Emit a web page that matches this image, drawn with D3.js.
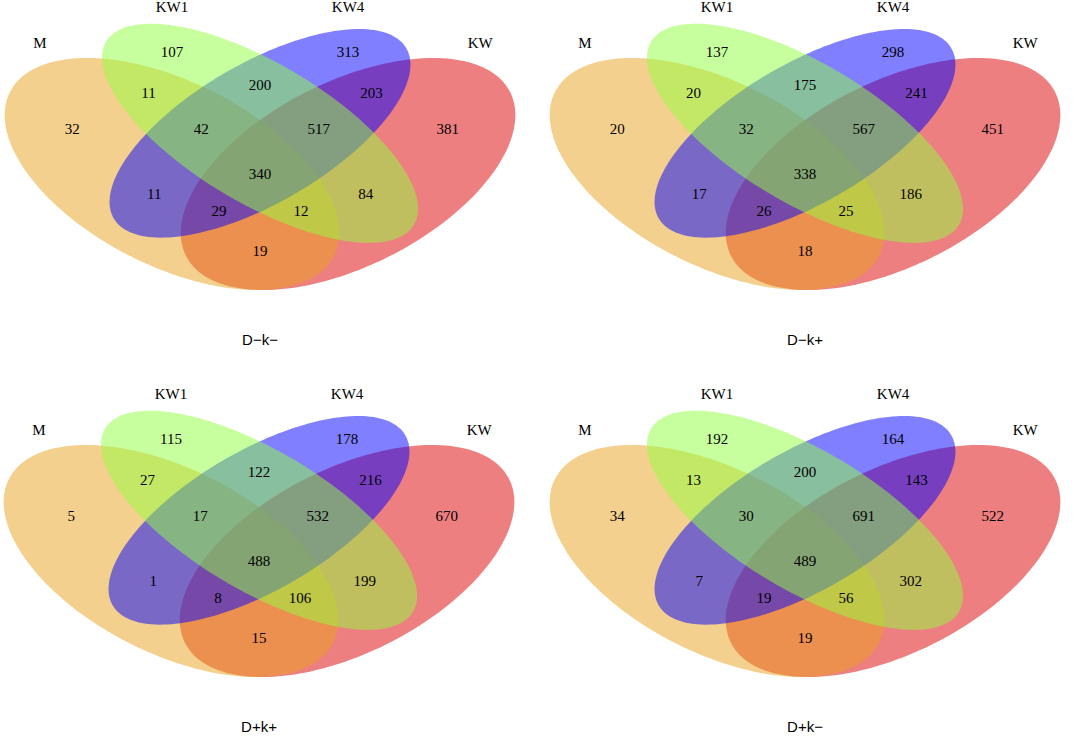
<!DOCTYPE html>
<html>
<head>
<meta charset="utf-8">
<script src="https://cdn.jsdelivr.net/npm/d3@7"></script>
<style>
  body { margin: 0; background: #fff; }
  svg { display: block; }
</style>
</head>
<body>
<svg id="chart" width="1084" height="736"></svg>
<script>
// set names, in the order their ellipses are listed below
const sets = ["M", "KW1", "KW4", "KW"];

// region order: M, KW1, KW4, KW, M&KW1, M&KW4, M&KW, KW1&KW4, KW1&KW, KW4&KW,
// M&KW1&KW4, M&KW1&KW, M&KW4&KW, KW1&KW4&KW, all four
const dkmCounts = [32, 107, 313, 381, 11, 11, 19, 200, 84, 203, 42, 12, 29, 517, 340];
const dkpCounts = [20, 137, 298, 451, 20, 17, 18, 175, 186, 241, 32, 25, 26, 567, 338];
const dpkpCounts = [5, 115, 178, 670, 27, 1, 15, 122, 199, 216, 17, 106, 8, 532, 488];
const dpkmCounts = [34, 192, 164, 522, 13, 7, 19, 200, 302, 143, 30, 56, 19, 691, 489];

const panelTitles = ["D\u2212k\u2212", "D\u2212k+", "D+k+", "D+k\u2212"];
const panelCounts = [dkmCounts, dkpCounts, dpkpCounts, dpkmCounts];

// layout in unit square (VennDiagram style quad layout)
const ellipses = [
  { cx: 0.35, cy: 0.47, a: 0.35, b: 0.20, rot: -45, color: "rgb(233,161,31)" },  // M
  { cx: 0.50, cy: 0.57, a: 0.35, b: 0.15, rot: -45, color: "rgb(145,255,61)" },  // KW1
  { cx: 0.50, cy: 0.57, a: 0.33, b: 0.15, rot: 45, color: "rgb(0,0,255)" },      // KW4
  { cx: 0.65, cy: 0.47, a: 0.35, b: 0.20, rot: 45, color: "rgb(221,0,2)" }       // KW
];
const drawOrder = [3, 0, 2, 1];

const regionPos = [
  [0.18, 0.58], [0.35, 0.77], [0.65, 0.77], [0.82, 0.58],
  [0.31, 0.67], [0.32, 0.42], [0.50, 0.28], [0.50, 0.69], [0.68, 0.42], [0.69, 0.67],
  [0.40, 0.58], [0.57, 0.38], [0.43, 0.38], [0.60, 0.58], [0.50, 0.47]
];
const setLabelPos = [[0.125, 0.792], [0.35, 0.88], [0.65, 0.88], [0.875, 0.792]];

// pixel frame of each panel's unit square
const panelFrames = [
  { x0: -33.5, x1: 553.5, y0: 365.3, y1: -41.7 },
  { x0: 511.5, x1: 1098.5, y0: 365.3, y1: -41.7 },
  { x0: -34.5, x1: 552.5, y0: 752.3, y1: 345.3 },
  { x0: 511.5, x1: 1098.5, y0: 752.3, y1: 345.3 }
];

const svg = d3.select("#chart");

function ellipsePoints(e) {
  const th = e.rot * Math.PI / 180;
  return d3.range(0, 360, 2).map(function (deg) {
    const t = deg * Math.PI / 180;
    const u = e.a * Math.cos(t), v = e.b * Math.sin(t);
    return [e.cx + u * Math.cos(th) - v * Math.sin(th),
            e.cy + u * Math.sin(th) + v * Math.cos(th)];
  });
}

panelCounts.forEach(function (counts, i) {
  const f = panelFrames[i];
  const x = d3.scaleLinear().domain([0, 1]).range([f.x0, f.x1]);
  const y = d3.scaleLinear().domain([0, 1]).range([f.y0, f.y1]);
  const line = d3.line().x(d => x(d[0])).y(d => y(d[1])).curve(d3.curveLinearClosed);

  const g = svg.append("g");

  g.selectAll("path")
    .data(drawOrder.map(k => ellipses[k]))
    .enter()
    .append("path")
    .attr("d", d => line(ellipsePoints(d)))
    .attr("fill", d => d.color)
    .attr("fill-opacity", 0.5)
    .attr("stroke", "none");

  g.selectAll(".count")
    .data(counts)
    .enter()
    .append("text")
    .attr("class", "count")
    .attr("x", (d, k) => x(regionPos[k][0]))
    .attr("y", (d, k) => y(regionPos[k][1]))
    .attr("dy", "0.34em")
    .attr("text-anchor", "middle")
    .attr("font-family", "Liberation Serif, Times New Roman, serif")
    .attr("font-size", 15)
    .attr("fill", "#000")
    .text(d => d);

  g.selectAll(".setlabel")
    .data(sets)
    .enter()
    .append("text")
    .attr("class", "setlabel")
    .attr("x", (d, k) => x(setLabelPos[k][0]))
    .attr("y", (d, k) => y(setLabelPos[k][1]))
    .attr("dy", "0.34em")
    .attr("text-anchor", "middle")
    .attr("font-family", "Liberation Serif, Times New Roman, serif")
    .attr("font-size", 15)
    .attr("fill", "#000")
    .text(d => d);

  // panel title, kept a little above the bottom edge
  g.append("text")
    .attr("x", x(0.5))
    .attr("y", y(0.062))
    .attr("dy", "0.36em")
    .attr("text-anchor", "middle")
    .attr("font-family", "Liberation Sans, Arial, sans-serif")
    .attr("font-size", 15)
    .attr("fill", "#000")
    .text(panelTitles[i]);
});
</script>
</body>
</html>
